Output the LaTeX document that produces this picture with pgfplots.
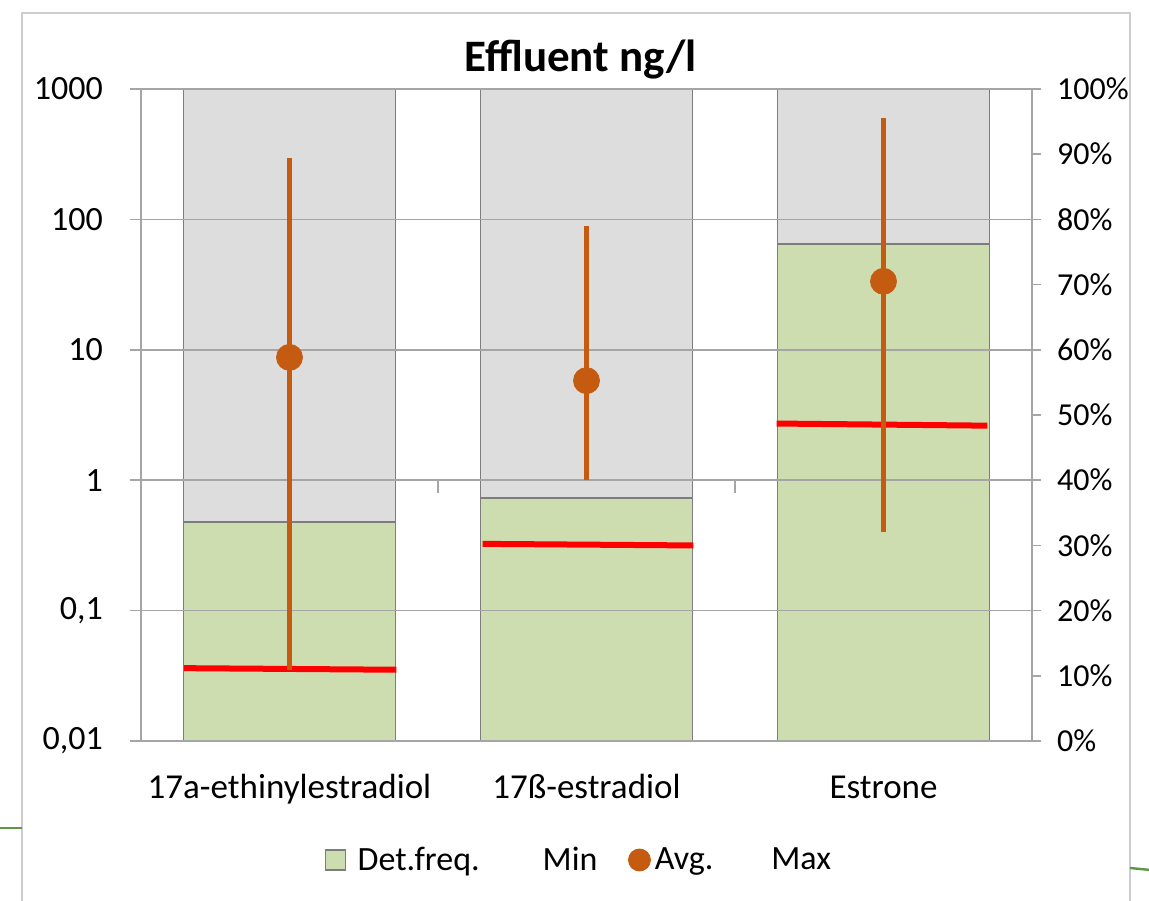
\documentclass[border=0pt]{standalone}
\usepackage{fontspec}
\setmainfont{Carlito}
\usepackage{pgfplots}
\usepackage{pgfplotstable}
\pgfplotsset{compat=1.18}

\definecolor{barGray}{RGB}{221,221,221}
\definecolor{barGreen}{RGB}{206,221,175}
\definecolor{edgeGray}{RGB}{125,125,125}
\definecolor{gridGray}{RGB}{165,165,165}
\definecolor{avgOrange}{RGB}{197,90,17}
\definecolor{frameGray}{RGB}{205,205,205}
\definecolor{slideGreen}{RGB}{95,150,65}

% detection frequency, %
\pgfplotstableread{
x detfreq
0 33.6
1 37.3
2 76.2
}\detfreq

% concentrations, ng/l
\pgfplotstableread{
x min avg max
0 0.035 8.75 295
1 1.0 5.8 89
2 0.40 33.5 600
}\conc

\begin{document}
\begin{tikzpicture}
\useasboundingbox (-70.5pt,-79.5pt) rectangle (504pt,370.5pt);
\draw[frameGray, line width=0.8pt] (-59.5pt,-95pt) -- (-59.5pt,364pt) -- (494.5pt,364pt) -- (494.5pt,-95pt);
\draw[slideGreen, line width=1.2pt] (-75pt,-43.5pt) -- (-59.5pt,-43.5pt);
\draw[slideGreen, line width=1.2pt] (494.5pt,-63.5pt) -- (510pt,-65pt);

% secondary axis: detection frequency bars
\begin{axis}[
    at={(0,0)}, anchor=south west,
    scale only axis, width=445.5pt, height=326pt,
    xmin=-0.5, xmax=2.5,
    ymin=0, ymax=100,
    hide x axis,
    axis y line*=right,
    y axis line style={gridGray, line width=0.8pt},
    ytick={0,10,...,100},
    yticklabel={\pgfmathprintnumber{\tick}\%},
    tick align=outside,
    major tick length=4.5pt,
    ytick style={gridGray, line width=0.8pt},
    tick label style={font=\fontsize{16}{19}\selectfont},
    yticklabel style={xshift=4.5pt},
    /pgf/number format/assume math mode=true,
]
\addplot[ybar, bar width=0.714, bar shift=0pt, fill=barGray, draw=edgeGray, line width=0.7pt]
    coordinates {(0,100)(1,100)(2,100)};
\addplot[ybar, bar width=0.714, bar shift=0pt, fill=barGreen, draw=edgeGray, line width=0.7pt]
    table[x=x, y=detfreq] {\detfreq};
\end{axis}

% primary axis: concentrations on log scale
\begin{axis}[
    at={(0,0)}, anchor=south west,
    scale only axis, width=445.5pt, height=326pt,
    xmin=-0.5, xmax=2.5,
    ymode=log, ymin=0.01, ymax=1000,
    axis y line*=left,
    axis x line*=bottom,
    x axis line style={draw=none},
    y axis line style={gridGray, line width=0.8pt},
    xtick={0,1,2},
    xticklabels={17a-ethinylestradiol, 17ß-estradiol, Estrone},
    major x tick style={draw=none},
    xticklabel style={font=\fontsize{17.5}{21}\selectfont, anchor=base, yshift=-23pt},
    ytick={0.01,0.1,1,10,100,1000},
    yticklabels={{0,01},{0,1},1,10,100,1000},
    yminorticks=false,
    tick align=outside,
    major tick length=5.5pt,
    ytick style={gridGray, line width=0.8pt},
    yticklabel style={font=\fontsize{17}{20}\selectfont, xshift=-10pt},
    ymajorgrids,
    grid style={gridGray, line width=0.8pt},
    /pgf/number format/assume math mode=true,
    title={Effluent ng/l},
    title style={font=\fontsize{22.5}{27}\selectfont\bfseries, at={(0.5,1)}, anchor=base, yshift=2.5pt, xshift=-3pt},
    legend columns=4,
    legend style={draw=none, fill=none, at={(0.206,-0.1825)}, anchor=west,
        font=\fontsize{17}{20}\selectfont, inner sep=0pt,
        /tikz/every even column/.append style={column sep=1pt}},
    clip=false,
]
\addlegendimage{legend image code/.code={\draw[fill=barGreen, draw=edgeGray, line width=0.7pt] (0pt,-5pt) rectangle (10pt,5pt); \path[draw=none] (0pt,0pt) -- (14pt,0pt);}}
\addlegendentry{Det.freq.}
\addlegendimage{legend image code/.code={\path[draw=none] (0pt,0pt) -- (26.5pt,0pt);}}
\addlegendentry{Min}
\addlegendimage{legend image code/.code={\path[draw=none] (0pt,0pt) -- (12pt,0pt); \fill[avgOrange] (18pt,0pt) circle (5.5pt);}}
\addlegendentry{Avg.}
\addlegendimage{legend image code/.code={\path[draw=none] (0pt,0pt) -- (24pt,0pt);}}
\addlegendentry{Max}

% limit of quantification lines
\addplot[red, line width=3pt, forget plot] coordinates {(-0.355,0.0362)(0.36,0.0352)};
\addplot[red, line width=3pt, forget plot] coordinates {(0.65,0.325)(1.36,0.316)};
\addplot[red, line width=3pt, forget plot] coordinates {(1.64,2.72)(2.35,2.62)};

% min-max ranges
\addplot[avgOrange, line width=2.2pt, forget plot] coordinates {(0,0.035)(0,295)};
\addplot[avgOrange, line width=2.2pt, forget plot] coordinates {(1,1.0)(1,89)};
\addplot[avgOrange, line width=2.2pt, forget plot] coordinates {(2,0.40)(2,600)};

% averages
\addplot[only marks, mark=*, mark size=6.5pt, avgOrange, forget plot]
    table[x=x, y=avg] {\conc};

% category axis crossing at 1
\draw[gridGray, line width=0.8pt] (axis cs:0.5,1) -- ++(0pt,-6.5pt);
\draw[gridGray, line width=0.8pt] (axis cs:1.5,1) -- ++(0pt,-6.5pt);
\end{axis}
\end{tikzpicture}
\end{document}
